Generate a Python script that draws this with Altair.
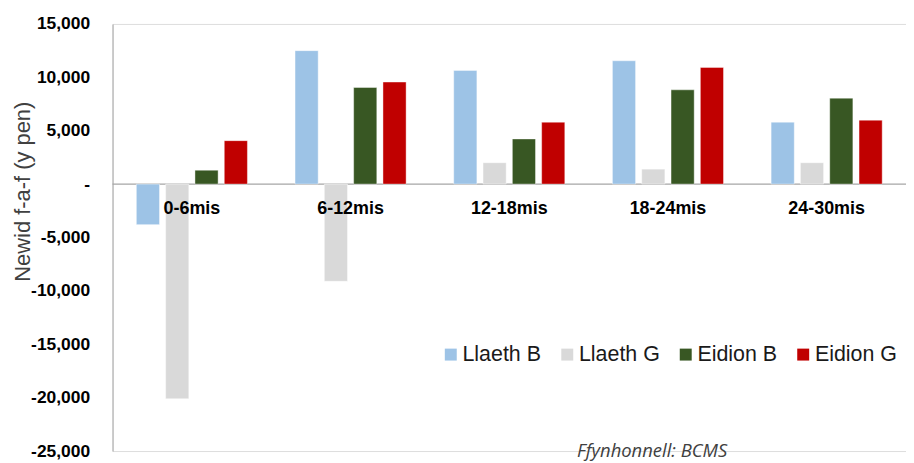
import altair as alt
import pandas as pd

categories = ["0-6mis", "6-12mis", "12-18mis", "18-24mis", "24-30mis"]
series = ["Llaeth B", "Llaeth G", "Eidion B", "Eidion G"]
llaeth_b = [-3800, 12500, 10650, 11550, 5800]
llaeth_g = [-20100, -9100, 2000, 1400, 2000]
eidion_b = [1300, 9050, 4230, 8830, 8050]
eidion_g = [4070, 9560, 5800, 10930, 5990]
colors = ["#9DC3E6", "#D9D9D9", "#385723", "#C00000"]
y_ticks = [-25000, -20000, -15000, -10000, -5000, 0, 5000, 10000, 15000]
source_text = "Ffynhonnell: BCMS"
y_title = "Newid f-a-f (y pen)"

rows = []
for s, vals in zip(series, [llaeth_b, llaeth_g, eidion_b, eidion_g]):
    for c, v in zip(categories, vals):
        rows.append({"cat": c, "series": s, "value": v})
df = pd.DataFrame(rows)
cat_df = pd.DataFrame({"cat": categories, "zero": [0] * len(categories)})
zero_df = pd.DataFrame({"zero": [0]})
src_df = pd.DataFrame({"t": [source_text]})

W, H = 797, 429

xscale = alt.Scale(domain=categories, paddingInner=0.3, paddingOuter=0.15)
yscale = alt.Scale(domain=[-25000, 15000], nice=False, zero=False)

bars = alt.Chart(df).mark_bar(stroke="white", strokeWidth=0.6, strokeOpacity=0.7).encode(
    x=alt.X("cat:N", scale=xscale, axis=None, sort=categories),
    xOffset=alt.XOffset("series:N", sort=series,
                        scale=alt.Scale(domain=series, paddingInner=0.21, paddingOuter=0)),
    y=alt.Y("value:Q", scale=yscale,
            axis=alt.Axis(values=y_ticks, grid=False, ticks=False, tickSize=0,
                          labelPadding=23, labelFontSize=17.5, labelFontWeight="bold",
                          labelColor="#000000", labelFont="Liberation Sans",
                          labelExpr="datum.value == 0 ? '-' : (datum.value < 0 ? '-' + format(-datum.value, ',') : format(datum.value, ','))",
                          domainColor="#A6A6A6", title=y_title, titleFont="Liberation Sans",
                          titleFontSize=22, titleFontWeight="normal", titleColor="#404040",
                          titleAngle=-90, titleX=-90, titleY=168, titleAlign="center",
                          titleBaseline="middle")),
    color=alt.Color("series:N", sort=series,
                    scale=alt.Scale(domain=series, range=colors),
                    legend=alt.Legend(title=None, orient="none", direction="horizontal",
                                      legendX=329, legendY=321, padding=0,
                                      symbolType="square", symbolSize=144,
                                      symbolStrokeWidth=0, labelFontSize=21.5,
                                      labelFont="Liberation Sans", labelColor="#1a1a1a",
                                      labelOffset=1, columnPadding=15)),
)

zero_line = alt.Chart(zero_df).mark_rule(color="#A6A6A6", strokeWidth=1.2).encode(
    y=alt.Y("zero:Q", scale=yscale)
)

labels = alt.Chart(cat_df).mark_text(
    font="Liberation Sans", fontSize=18, fontWeight="bold", color="#000000",
    baseline="alphabetic", dy=30
).encode(
    x=alt.X("cat:N", scale=xscale, sort=categories),
    y=alt.Y("zero:Q", scale=yscale),
    text="cat:N",
)

source = alt.Chart(src_df).mark_text(
    font="Open Sans", fontSize=18.5, fontStyle="italic", color="#404040",
    baseline="alphabetic", align="center"
).encode(x=alt.value(542), y=alt.value(435), text="t:N")

chart = alt.layer(zero_line, bars, labels, source).properties(
    width=W, height=H,
    autosize=alt.AutoSizeParams(type="none"),
    padding={"left": 105, "top": 15, "right": 0, "bottom": 10},
).configure_view(stroke=None).configure(background="white")

chart.save("out.html", embed_options={"renderer": "svg", "actions": False})
